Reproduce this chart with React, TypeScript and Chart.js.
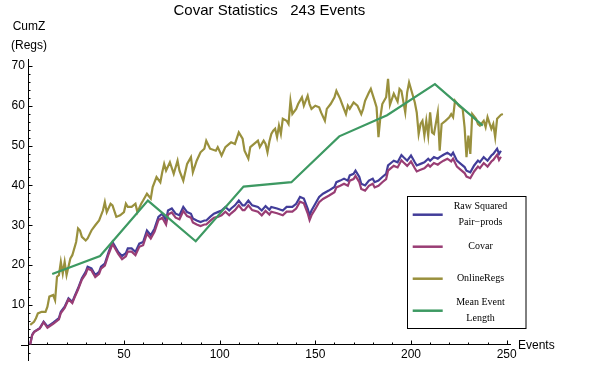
import React, { useEffect, useRef } from "react";
import { Chart, registerables } from "chart.js";

Chart.register(...registerables);

// ---------- data ----------
const titleText = "Covar Statistics   243 Events";
const yAxisTitle = ["CumZ", "(Regs)"];
const xAxisTitle = "Events";
const xTicks = [50, 100, 150, 200, 250];
const yTicks = [10, 20, 30, 40, 50, 60, 70];
const seriesLabels = [["Raw Squared", "Pair\u2212prods"], ["Covar"], ["OnlineRegs"], ["Mean Event", "Length"]];

const rawEvents = [1,2,3,6,8,10,13,16,17,19,21,23,24,26,28,30,31,33,35,37,38,40,42,44,45,47,49,51,52,54,56,58,60,62,64,66,68,70,72,73,75,77,79,81,83,85,86,88,90,92,93,95,97,99,101,103,105,106,108,110,112,113,115,117,120,122,124,126,127,130,133,135,138,140,142,144,146,147,148,150,152,154,157,160,161,163,165,167,168,170,171,173,174,176,178,180,181,183,185,187,188,190,191,193,195,196,198,200,202,203,205,207,209,210,212,214,215,217,219,221,222,224,226,228,229,231,233,235,236,238,240,242,243,245,246,247];
const rawValues = [0.2,2.5,3.3,4.2,5.8,4.6,5.6,6.7,8.3,9.6,11.7,10.8,12.0,14.2,16.7,18.3,19.6,19.2,17.5,18.3,19.6,20.4,23.3,25.8,25.0,23.3,22.3,23.0,24.2,24.2,23.3,25.4,25.8,28.7,27.5,29.2,32.1,32.9,31.2,33.7,34.2,32.9,32.5,34.6,33.3,32.9,31.7,31.2,30.8,31.2,31.2,32.1,32.9,33.3,33.7,34.6,33.7,34.2,35.0,36.2,35.0,35.0,36.2,35.0,34.6,33.7,34.8,33.9,34.6,34.2,33.7,34.6,34.6,35.4,37.1,36.7,34.2,32.5,33.7,35.4,37.1,37.9,38.7,39.6,40.8,41.2,41.7,41.2,42.5,42.9,43.7,42.1,40.4,40.0,41.2,41.7,40.8,41.2,42.1,42.9,45.0,45.8,46.2,45.8,47.6,47.1,46.2,47.5,45.8,45.0,45.4,45.8,46.7,46.2,47.1,46.7,47.1,47.7,48.2,47.5,48.2,46.2,45.4,44.6,43.7,43.3,45.0,46.2,45.8,47.1,46.2,47.5,47.9,49.2,47.9,48.7];
const covarValues = [0.1,2.4,3.2,4.1,5.7,4.3,5.3,6.4,8.0,9.3,11.4,10.5,11.7,13.9,16.4,17.8,19.1,18.7,17.0,17.8,19.1,19.9,22.8,25.3,24.5,22.8,21.5,22.2,23.4,23.4,22.5,24.6,25.0,27.9,26.7,28.4,31.3,31.9,30.2,32.7,33.2,31.9,31.5,33.6,32.3,31.9,30.7,30.2,29.8,30.2,30.2,31.1,31.9,32.1,32.5,33.4,32.5,33.0,33.8,35.0,33.8,33.8,35.0,33.8,33.4,32.5,33.6,32.7,33.4,33.0,32.5,33.4,33.4,34.2,35.9,35.5,33.0,31.3,32.5,34.1,35.8,36.6,37.4,38.3,39.5,39.9,40.4,39.9,41.2,41.6,42.4,40.8,39.1,38.7,39.9,40.4,39.5,39.9,40.8,41.6,43.7,44.5,44.9,44.5,46.3,45.8,44.9,46.0,44.3,43.5,43.9,44.3,45.2,44.7,45.6,45.2,45.6,46.2,46.7,46.0,46.7,44.7,43.9,43.1,42.2,41.8,43.5,44.7,44.3,45.6,44.7,46.0,46.4,47.7,46.4,47.2];

const onlineEvents = [1,3,4,5,7,9,10,11,13,14,15,16,17,18,19,20,22,23,25,26,27,28,30,31,33,35,37,39,40,41,43,44,46,48,50,51,52,54,56,57,59,60,62,64,65,67,69,70,71,72,74,76,78,79,81,83,85,86,88,90,92,93,95,98,99,101,103,105,106,108,110,112,113,115,116,118,120,121,123,124,125,126,127,128,129,130,131,132,133,135,136,137,138,140,141,143,144,146,147,148,150,152,153,155,156,158,160,161,163,164,166,167,168,170,172,174,175,176,178,179,181,182,183,184,185,187,188,189,191,193,194,195,197,198,199,201,202,203,204,205,206,207,208,209,210,211,212,214,215,216,218,220,221,222,223,225,227,228,229,230,231,232,234,235,236,238,239,240,242,243,244,245,247,248];
const onlineValues = [5.0,5.8,6.7,7.9,8.3,8.3,9.6,12.1,12.5,11.2,17.1,17.5,20.8,17.9,20.8,17.5,21.7,22.5,25.8,29.2,28.7,27.1,26.2,26.7,28.7,30.0,31.2,33.7,35.8,33.3,35.4,35.0,32.1,32.5,33.3,35.4,34.6,34.6,35.4,33.3,35.4,36.2,37.9,36.7,39.6,42.1,40.8,43.3,45.4,43.7,45.8,42.9,46.2,43.7,41.2,45.4,47.1,43.3,46.2,48.3,49.2,51.2,49.2,48.7,49.6,47.5,49.6,50.4,50.8,50.4,53.3,51.7,48.7,46.7,49.6,50.4,51.2,49.6,51.2,50.4,48.3,51.0,52.9,53.7,54.2,52.1,55.0,52.9,56.7,56.2,55.4,61.2,57.9,59.2,60.4,62.1,60.0,62.5,60.4,59.2,60.0,59.6,58.3,56.2,59.2,60.4,62.1,63.7,61.7,60.4,57.9,60.0,59.2,60.8,60.0,57.9,59.2,61.2,63.3,64.2,61.2,59.6,52.1,57.1,60.4,62.1,66.7,60.2,63.0,61.0,64.2,63.7,58.3,63.3,65.8,62.5,60.8,58.3,52.9,55.4,56.2,52.5,56.2,52.5,58.3,53.3,52.9,58.3,48.7,55.4,56.2,57.1,57.9,57.1,61.2,60.0,59.2,54.6,47.1,52.5,47.9,57.9,56.7,55.4,55.0,56.2,54.6,57.1,54.2,55.4,52.1,56.7,57.7,57.9];

const meanEvents = [12.5, 37.5, 62.5, 87.5, 112.5, 137.5, 162.5, 187.5, 212.5, 237.5];
const meanValues = [17.8, 22.3, 36.2, 26.0, 39.7, 40.8, 52.3, 57.6, 65.4, 55.0];

// ---------- styles ----------
const seriesColors = ["rgb(66,61,153)", "rgb(153,61,116)", "rgb(153,144,61)", "rgb(61,153,98)"];
const sansFont = "'Liberation Sans', Arial, sans-serif";
const serifFont = "'Liberation Serif', 'Times New Roman', serif";

const toPoints = (xs: number[], ys: number[]) => xs.map((x, i) => ({ x, y: ys[i] }));

const extrasPlugin = {
  id: "extras",
  afterDraw(chart: any) {
    const ctx = chart.ctx;
    const xs = chart.scales.x;
    const ys = chart.scales.y;
    const x0 = xs.getPixelForValue(0);
    const y0 = ys.getPixelForValue(0);
    ctx.save();
    ctx.strokeStyle = "#000";
    ctx.lineWidth = 1;
    ctx.beginPath();
    // axis extensions past the origin
    ctx.moveTo(Math.round(xs.getPixelForValue(-4)), Math.round(y0) + 0.5);
    ctx.lineTo(Math.round(x0), Math.round(y0) + 0.5);
    ctx.moveTo(Math.round(x0) + 0.5, Math.round(y0));
    ctx.lineTo(Math.round(x0) + 0.5, Math.round(ys.getPixelForValue(-4)));
    // x ticks (inward)
    for (let v = 10; v <= 250; v += 10) {
      const px = Math.round(xs.getPixelForValue(v)) + 0.5;
      const len = v % 50 === 0 ? 4.5 : 2.5;
      ctx.moveTo(px, Math.round(y0));
      ctx.lineTo(px, Math.round(y0) - len);
    }
    // y ticks (inward)
    for (let v = -2; v <= 70; v += 2) {
      if (v === 0) continue;
      const py = Math.round(ys.getPixelForValue(v)) + 0.5;
      const len = v % 10 === 0 ? 4.5 : 2.5;
      ctx.moveTo(Math.round(x0), py);
      ctx.lineTo(Math.round(x0) + len, py);
    }
    ctx.stroke();

    // axis titles
    ctx.fillStyle = "#000";
    ctx.font = `12px ${sansFont}`;
    ctx.textAlign = "center";
    ctx.textBaseline = "alphabetic";
    ctx.fillText(yAxisTitle[0], 29, 30);
    ctx.fillText(yAxisTitle[1], 29, 48.5);
    ctx.textAlign = "left";
    ctx.textBaseline = "middle";
    ctx.fillText(xAxisTitle, 518, 345.5);

    // legend
    const bx = 407.5, by = 196.5, bw = 118.5, bh = 132;
    ctx.fillStyle = "#fff";
    ctx.fillRect(bx, by, bw, bh);
    ctx.strokeStyle = "#000";
    ctx.lineWidth = 1;
    ctx.strokeRect(bx, by, bw, bh);
    chart.data.datasets.forEach((ds: any, i: number) => {
      const cy = by + 18.2 + i * 32;
      ctx.strokeStyle = ds.borderColor;
      ctx.lineWidth = 2.5;
      ctx.beginPath();
      ctx.moveTo(412.7, cy);
      ctx.lineTo(442.7, cy);
      ctx.stroke();
      const lines: string[] = seriesLabels[i];
      ctx.fillStyle = "#000";
      ctx.font = `10px ${serifFont}`;
      ctx.textAlign = "center";
      ctx.textBaseline = "middle";
      lines.forEach((t, j) => {
        const off = (j - (lines.length - 1) / 2) * 16;
        ctx.fillText(t, 480.5, cy + off);
      });
    });
    ctx.restore();
  },
};

export default function App() {
  const canvasRef = useRef<HTMLCanvasElement | null>(null);

  useEffect(() => {
    document.body.style.margin = "0";
    const canvas = canvasRef.current;
    if (!canvas) return;
    const lineDs = (label: string, data: any[], color: string, order: number) => ({
      label,
      data,
      borderColor: color,
      backgroundColor: color,
      borderWidth: 2.2,
      pointRadius: 0,
      tension: 0,
      fill: false,
      order,
      clip: false as any,
    });
    const chart = new Chart(canvas, {
      type: "line",
      data: {
        datasets: [
          lineDs(seriesLabels[0].join(" "), toPoints(rawEvents, rawValues), seriesColors[0], 3),
          lineDs(seriesLabels[1].join(" "), toPoints(rawEvents, covarValues), seriesColors[1], 2),
          lineDs(seriesLabels[2].join(" "), toPoints(onlineEvents, onlineValues), seriesColors[2], 1),
          lineDs(seriesLabels[3].join(" "), toPoints(meanEvents, meanValues), seriesColors[3], 0),
        ],
      },
      options: {
        animation: false,
        responsive: true,
        maintainAspectRatio: false,
        layout: { padding: { left: 0, right: 89.5, top: 0, bottom: 0 } },
        plugins: {
          legend: { display: false },
          tooltip: { enabled: false },
          title: {
            display: true,
            text: titleText,
            fullSize: false,
            color: "#000",
            font: { family: sansFont, size: 15, weight: "normal", lineHeight: 1.2 },
            padding: { top: 1.5, bottom: 39.5 },
          },
        },
        scales: {
          x: {
            type: "linear",
            min: 0,
            max: 252,
            afterBuildTicks: (s: any) => {
              s.ticks = xTicks.map((v) => ({ value: v }));
            },
            afterFit: (s: any) => {
              s.height = 30.1;
            },
            grid: { display: true, drawOnChartArea: false, drawTicks: false },
            border: { display: true, color: "#000", width: 1 },
            ticks: { color: "#000", font: { family: sansFont, size: 12 }, padding: 3, maxRotation: 0, autoSkip: false },
          },
          y: {
            type: "linear",
            min: 0,
            max: 71.7,
            afterBuildTicks: (s: any) => {
              s.ticks = yTicks.map((v) => ({ value: v }));
            },
            afterFit: (s: any) => {
              s.width = 28.3;
            },
            grid: { display: true, drawOnChartArea: false, drawTicks: false },
            border: { display: true, color: "#000", width: 1 },
            ticks: { color: "#000", font: { family: sansFont, size: 12 }, padding: 3.5, autoSkip: false },
          },
        },
      },
      plugins: [extrasPlugin],
    } as any);
    return () => chart.destroy();
  }, []);

  return (
    <div style={{ width: 600, height: 375, position: "relative" }}>
      <canvas ref={canvasRef} />
    </div>
  );
}
